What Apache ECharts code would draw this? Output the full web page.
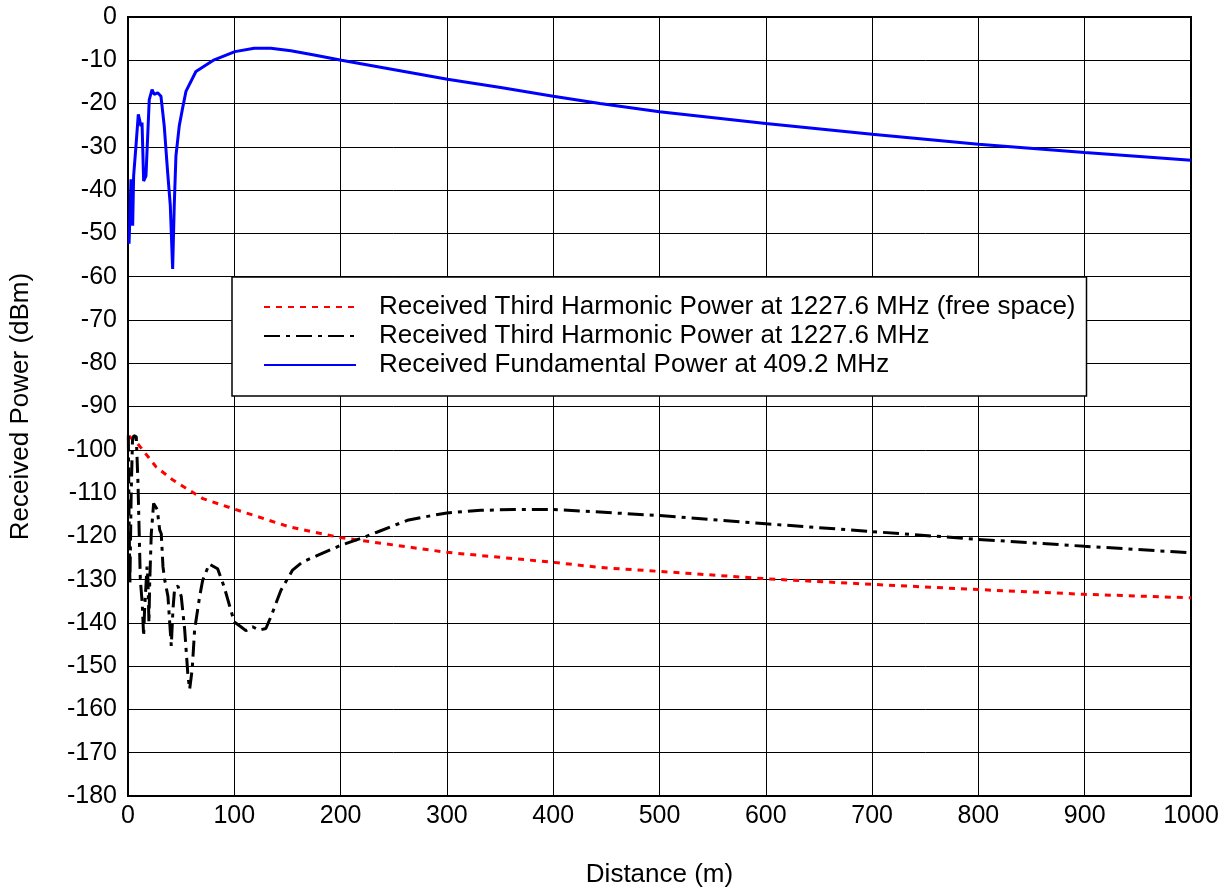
<!DOCTYPE html>
<html lang="en">
<head>
<meta charset="UTF-8" />
<title>Received Power vs Distance</title>
<style>
  html, body { margin: 0; padding: 0; background: #fff; }
  #chart { width: 1229px; height: 893px; }
</style>
</head>
<body>
<div id="chart"></div>
<script src="https://cdn.jsdelivr.net/npm/echarts@6/dist/echarts.min.js"></script>
<script>
// distances (m) and received power (dBm)
const freeDist  = [1, 3, 7.8, 14, 26.6, 42.3, 58, 70.5, 100, 151.6, 200, 300, 400, 444, 500, 600, 700, 800, 900, 1000];
const freePower = [-96.8, -97.3, -98.2, -100.1, -104, -107, -109.4, -111.3, -113.7, -117.8, -120.3, -123.7, -126, -127.2, -128.1, -129.8, -131.1, -132.3, -133.4, -134.2];

const thirdDist  = [0.3, 1, 1.8, 3, 4.2, 5.5, 7.8, 9.4, 11.6, 13.4, 14.7, 15.6, 17.9, 18.8, 19.7, 20.4, 21.9, 24.1, 27.5, 29.8,
                    31.3, 32.9, 34.5, 37.6, 40.7, 42.3, 43.9, 47, 50.1, 53.3, 56.4, 58, 60.4, 62.7, 67.4, 70.2, 76.4, 84.3, 90.5, 96.8,
                    100, 106.2, 110.9, 117.2, 123.4, 129.7, 134.4, 143.8, 154.8, 164.2, 178.3, 200, 218.8, 234.7, 262.8, 287.9, 300, 331.8, 363.2, 400,
                    444, 500, 600, 700, 800, 900, 1000];
const thirdPower = [-96.7, -115, -131, -110, -98, -96.7, -97, -107.8, -130, -135.5, -143.1, -137, -127, -130, -140, -130.9, -119.4, -112.4, -113.8, -118.5,
                    -119.4, -127, -130, -133.9, -145.3, -136.9, -131.9, -131.5, -133.9, -141.5, -152.2, -155.3, -150.7, -141.5, -133.9, -130.2, -126.4, -127.5, -131.7, -137.1,
                    -139.8, -140.9, -141.8, -140.9, -141.7, -141.3, -138.6, -132.5, -127.8, -125.9, -124.4, -122.1, -120.5, -119, -116.3, -115.1, -114.6, -114, -113.8, -113.8,
                    -114.4, -115.2, -117.1, -118.9, -120.7, -122.3, -123.8];

const fundDist  = [1, 2.8, 4.4, 5.3, 7.5, 9.7, 11, 12.2, 13.2, 14.7, 16.9, 20, 22.6, 24.7, 27.9, 31, 34.1, 37.3, 39.8, 42,
                   43.5, 45.1, 48.2, 51.4, 54.5, 63.9, 81.1, 100.6, 118.7, 134.4, 153.2, 175.1, 200.8, 300.5, 350.6, 400, 444, 500, 600, 700,
                   800, 900, 1000];
const fundPower = [-52.4, -37.5, -48.2, -36.7, -29.8, -22.5, -22.8, -25.2, -24.4, -37.9, -36.7, -19.1, -16.8, -17.9, -17.5, -18.3, -25.2, -35.9, -43.6, -58.2,
                   -43.6, -32.1, -25.2, -21, -17.2, -12.6, -9.9, -8, -7.2, -7.2, -7.8, -8.8, -10, -14.4, -16.3, -18.3, -20, -21.9, -24.6, -27.1,
                   -29.4, -31.3, -33.1];

const seriesNames = [
  'Received Third Harmonic Power at 1227.6 MHz (free space)',
  'Received Third Harmonic Power at 1227.6 MHz',
  'Received Fundamental Power at 409.2 MHz'
];

const pairs = (xs, ys) => xs.map((x, i) => [x, ys[i]]);
const FONT = '"Liberation Sans", Arial, sans-serif';

const chart = echarts.init(document.getElementById('chart'));
chart.setOption({
  animation: false,
  textStyle: { fontFamily: FONT, color: '#000' },
  grid: {
    left: 127, right: 38, top: 17, bottom: 93,
    show: true, borderColor: '#000', borderWidth: 2, backgroundColor: '#fff'
  },
  legend: {
    orient: 'vertical',
    left: 232, top: 277,
    backgroundColor: '#fff',
    borderColor: '#000',
    borderWidth: 1.5,
    borderRadius: 0,
    padding: [17, 11, 18, 31],
    itemGap: 3,
    itemWidth: 92,
    itemHeight: 14,
    itemStyle: { opacity: 0 },
    textStyle: { fontSize: 26, color: '#000', fontFamily: FONT, padding: [0, 0, 0, 18] },
    data: seriesNames
  },
  xAxis: {
    type: 'value',
    min: 0, max: 1000, interval: 100,
    name: 'Distance (m)',
    nameLocation: 'middle',
    nameGap: 66,
    nameTextStyle: { fontSize: 26, color: '#000', fontFamily: FONT },
    axisLine: { show: false },
    axisTick: { show: false },
    axisLabel: { fontSize: 25, color: '#000', margin: 8, fontFamily: FONT, formatter: v => String(v) },
    splitLine: { show: true, lineStyle: { color: '#000', width: 1 } }
  },
  yAxis: {
    type: 'value',
    min: -180, max: 0, interval: 10,
    name: 'Received Power (dBm)',
    nameLocation: 'middle',
    nameGap: 94,
    nameTextStyle: { fontSize: 26, color: '#000', fontFamily: FONT },
    axisLine: { show: false },
    axisTick: { show: false },
    axisLabel: { fontSize: 25, color: '#000', margin: 11, fontFamily: FONT },
    splitLine: { show: true, lineStyle: { color: '#000', width: 1 } }
  },
  series: [
    {
      name: seriesNames[0],
      type: 'line',
      symbol: 'none',
      z: 3,
      lineStyle: { color: '#ff0000', width: 3, type: [6, 6] },
      itemStyle: { color: '#ff0000' },
      data: pairs(freeDist, freePower)
    },
    {
      name: seriesNames[1],
      type: 'line',
      symbol: 'none',
      z: 4,
      lineStyle: { color: '#000', width: 3, type: [16, 6, 4, 6] },
      itemStyle: { color: '#000' },
      data: pairs(thirdDist, thirdPower)
    },
    {
      name: seriesNames[2],
      type: 'line',
      symbol: 'none',
      z: 5,
      lineStyle: { color: '#0000ff', width: 3 },
      itemStyle: { color: '#0000ff' },
      data: pairs(fundDist, fundPower)
    }
  ]
});
</script>
</body>
</html>
